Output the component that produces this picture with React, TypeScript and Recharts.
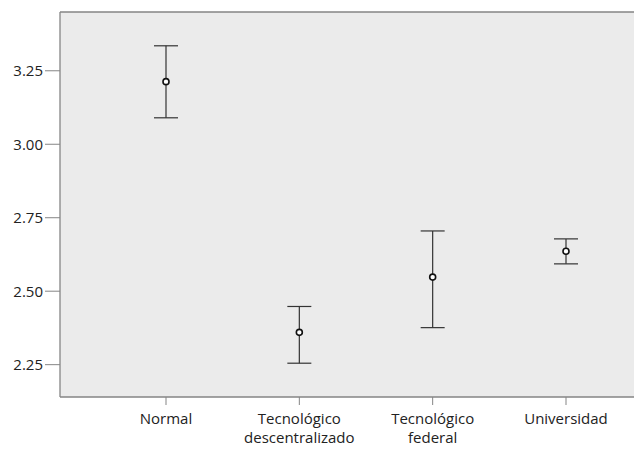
import {
  ComposedChart,
  Scatter,
  ErrorBar,
  XAxis,
  YAxis,
  CartesianGrid,
  ReferenceLine,
} from "recharts";

const categories = [
  "Normal",
  "Tecnológico\ndescentralizado",
  "Tecnológico\nfederal",
  "Universidad",
];
const means = [3.213, 2.36, 2.548, 2.636];
const lowers = [3.09, 2.255, 2.376, 2.593];
const uppers = [3.335, 2.448, 2.705, 2.678];
const yTicks = [2.25, 2.5, 2.75, 3.0, 3.25];

const Y_MIN = 2.14;
const Y_MAX = 3.45;

const FONT = "'Open Sans', 'DejaVu Sans', sans-serif";
const AXIS = "#858585";

const data = categories.map((name, i) => ({
  name,
  mean: means[i],
  err: [means[i] - lowers[i], uppers[i] - means[i]],
}));

function CategoryTick({ x, y, payload }: any) {
  const lines = String(payload.value).split("\n");
  return (
    <text
      x={x}
      y={y}
      textAnchor="middle"
      fontFamily={FONT}
      fontSize={15}
      fill="#222"
    >
      {lines.map((line, i) => (
        <tspan key={i} x={x} dy={i === 0 ? 17 : 19}>
          {line}
        </tspan>
      ))}
    </text>
  );
}

function MeanDot({ cx, cy }: any) {
  return <circle cx={cx} cy={cy} r={3} fill="#fff" stroke="#111" strokeWidth={1.6} />;
}

export default function App() {
  return (
    <div
      style={{
        position: "absolute",
        left: 0,
        top: 0,
        width: 634,
        height: 450,
        background: "#fff",
      }}
    >
      <ComposedChart
        width={634}
        height={450}
        data={data}
        margin={{ top: 12, right: 0, bottom: 0, left: 0 }}
      >
        <CartesianGrid
          fill="#ebebeb"
          stroke="none"
          horizontal={false}
          vertical={false}
        />
        <XAxis
          dataKey="name"
          type="category"
          height={53}
          padding={{ left: 106, right: 68 }}
          axisLine={{ stroke: AXIS, strokeWidth: 1.3 }}
          tickLine={{ stroke: AXIS }}
          tickSize={8}
          tickMargin={2}
          tick={<CategoryTick />}
          interval={0}
        />
        <YAxis
          type="number"
          domain={[Y_MIN, Y_MAX]}
          ticks={yTicks}
          width={60}
          axisLine={{ stroke: AXIS, strokeWidth: 1.3 }}
          tickLine={{ stroke: AXIS }}
          tickSize={15}
          tickMargin={2}
          tickFormatter={(v: number) => v.toFixed(2)}
          tick={{ fontFamily: FONT, fontSize: 15, fill: "#222" }}
          allowDataOverflow
        />
        <ReferenceLine y={Y_MAX} stroke={AXIS} strokeWidth={1.3} />
        <Scatter
          dataKey="mean"
          shape={<MeanDot />}
          isAnimationActive={false}
        >
          <ErrorBar
            dataKey="err"
            direction="y"
            width={12}
            stroke="#333"
            strokeWidth={1.2}
            isAnimationActive={false}
          />
        </Scatter>
      </ComposedChart>
    </div>
  );
}
